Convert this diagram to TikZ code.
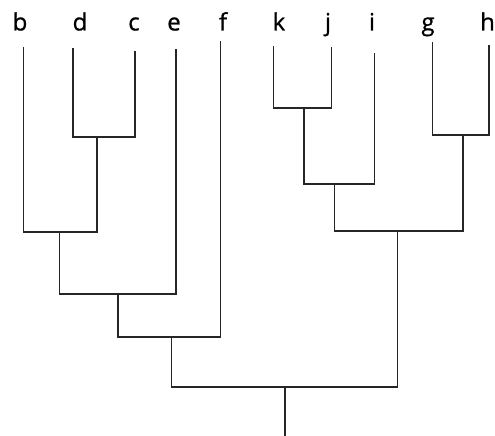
\documentclass[tikz,border=0pt]{standalone}
\usepackage{fontspec}
\setmainfont{Open Sans}
\newfontfamily\taxonfont{Open Sans}[FakeBold=0.8]
\begin{document}
\begin{tikzpicture}[x=1pt,y=-1pt,
  branch/.style={draw=black!85,line width=1.9pt,line cap=rect},
  taxon/.style={anchor=base,font=\taxonfont\fontsize{24}{24}\selectfont,inner sep=0pt}]
\useasboundingbox (0,0) rectangle (495,436);
% taxon labels
\node[taxon] (lb) at (20,30.5) {b};
\node[taxon] (ld) at (80,30.5) {d};
\node[taxon] (lc) at (134,30.5) {c};
\node[taxon] (le) at (174,30.5) {e};
\node[taxon] (lf) at (223,30.5) {f};
\node[taxon] (lk) at (279,30.5) {k};
\node[taxon] (lj) at (328,30.5) {j};
\node[taxon] (li) at (372,30.5) {i};
\node[taxon] (lg) at (428,30.5) {g};
\node[taxon] (lh) at (487.5,30.5) {h};
% branch tips
\coordinate (b) at (23.5,48);
\coordinate (d) at (73,49);
\coordinate (c) at (135,52);
\coordinate (e) at (176,50);
\coordinate (f) at (220.5,42);
\coordinate (k) at (273.5,47);
\coordinate (j) at (331.5,48);
\coordinate (i) at (374.5,54);
\coordinate (g) at (432.5,43);
\coordinate (h) at (489,46);
% internal nodes
\coordinate (dc) at (97,137);
\coordinate (bdc) at (59.5,232);
\coordinate (bdce) at (118,294);
\coordinate (bdcef) at (171.5,337);
\coordinate (kj) at (304,108);
\coordinate (kji) at (334.5,184);
\coordinate (gh) at (463,135);
\coordinate (kjigh) at (397.5,231);
\coordinate (root) at (285,387);
\coordinate (base) at (285,440);
% tree
\draw[branch] (d) |- (dc) -| (c);
\draw[branch] (b) |- (bdc) -| (dc);
\draw[branch] (bdc) |- (bdce) -| (e);
\draw[branch] (bdce) |- (bdcef) -| (f);
\draw[branch] (k) |- (kj) -| (j);
\draw[branch] (kj) |- (kji) -| (i);
\draw[branch] (g) |- (gh) -| (h);
\draw[branch] (kji) |- (kjigh) -| (gh);
\draw[branch] (bdcef) |- (root) -| (kjigh);
\draw[branch] (root) -- (base);
\end{tikzpicture}
\end{document}
